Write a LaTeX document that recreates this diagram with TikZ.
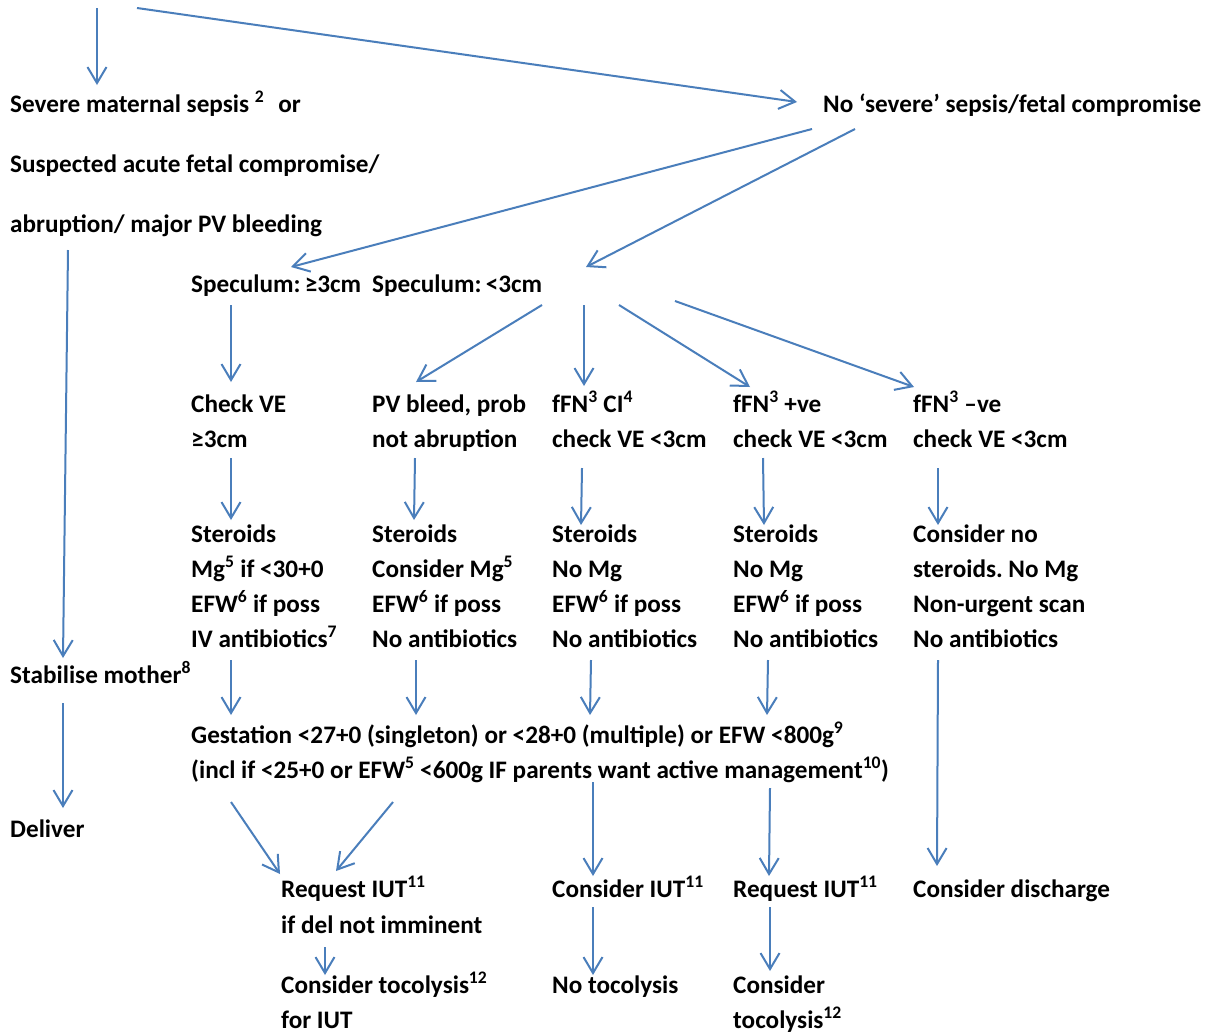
\documentclass[tikz,border=0pt]{standalone}
\usepackage{fontspec}
\setmainfont{Carlito}
\usetikzlibrary{arrows.meta}
\definecolor{arrowblue}{RGB}{74,126,187}
\frenchspacing
\begin{document}
\begin{tikzpicture}[x=1pt,y=-1pt,
  txt/.style={anchor=base west,inner sep=0pt,font=\fontsize{25.2}{35}\selectfont\bfseries},
  arr/.style={draw=arrowblue,line width=2pt,-{Straight Barb[length=16pt,width=19pt]}}]
\fill[white] (0,0) rectangle (1209,1034);
\useasboundingbox (0,0) rectangle (1209,1034);
% top free ends
\coordinate (top1) at (97,8);
\coordinate (top2) at (137,8);
% left column
\node[txt] (s1) at (10,112) {Severe maternal sepsis \textsuperscript{2}\hspace{14pt}or};
\node[txt] (s2) at (10,172) {Suspected acute fetal compromise/};
\node[txt] (s3) at (10,232) {abruption/ major PV bleeding};
\node[txt] (ns) at (823,112) {No ‘severe’ sepsis/fetal compromise};
\node[txt] (spA) at (191,292) {Speculum:\,≥3cm};
\node[txt] (spB) at (372,292) {Speculum:\,<3cm};
% row: checks
\node[txt] (c1a) at (191,412) {Check VE};
\node[txt] (c1b) at (191,447) {≥3cm};
\node[txt] (c2a) at (372,412) {PV bleed, prob};
\node[txt] (c2b) at (372,447) {not abruption};
\node[txt] (c3a) at (552,412) {fFN\textsuperscript{3} CI\textsuperscript{4}};
\node[txt] (c3b) at (552,447) {check VE <3cm};
\node[txt] (c4a) at (733,412) {fFN\textsuperscript{3} +ve};
\node[txt] (c4b) at (733,447) {check VE <3cm};
\node[txt] (c5a) at (913,412) {fFN\textsuperscript{3} –ve};
\node[txt] (c5b) at (913,447) {check VE <3cm};
% row: management
\node[txt] (d11) at (191,542) {Steroids};
\node[txt] (d12) at (191,577) {Mg\textsuperscript{5} if <30+0};
\node[txt] (d13) at (191,612) {EFW\textsuperscript{6} if poss};
\node[txt] (d14) at (191,647) {IV antibiotics\textsuperscript{7}};
\node[txt] (d21) at (372,542) {Steroids};
\node[txt] (d22) at (372,577) {Consider Mg\textsuperscript{5}};
\node[txt] (d23) at (372,612) {EFW\textsuperscript{6} if poss};
\node[txt] (d24) at (372,647) {No antibiotics};
\node[txt] (d31) at (552,542) {Steroids};
\node[txt] (d32) at (552,577) {No Mg};
\node[txt] (d33) at (552,612) {EFW\textsuperscript{6} if poss};
\node[txt] (d34) at (552,647) {No antibiotics};
\node[txt] (d41) at (733,542) {Steroids};
\node[txt] (d42) at (733,577) {No Mg};
\node[txt] (d43) at (733,612) {EFW\textsuperscript{6} if poss};
\node[txt] (d44) at (733,647) {No antibiotics};
\node[txt] (d51) at (913,542) {Consider no};
\node[txt] (d52) at (913,577) {steroids. No Mg};
\node[txt] (d53) at (913,612) {Non-urgent scan};
\node[txt] (d54) at (913,647) {No antibiotics};
\node[txt] (stab) at (10,683) {Stabilise mother\textsuperscript{8}};
\node[txt] (g1) at (191,743) {Gestation <27+0 (singleton) or <28+0 (multiple) or EFW <800g\textsuperscript{9}};
\node[txt] (g2) at (191,778) {(incl if <25+0 or EFW\textsuperscript{5} <600g IF parents want active management\textsuperscript{10})};
\node[txt] (del) at (10,837) {Deliver};
\node[txt] (r1a) at (281,897) {Request IUT\textsuperscript{11}};
\node[txt] (r1b) at (281,933) {if del not imminent};
\node[txt] (t1a) at (281,993) {Consider tocolysis\textsuperscript{12}};
\node[txt] (t1b) at (281,1028) {for IUT};
\node[txt] (r3) at (552,897) {Consider IUT\textsuperscript{11}};
\node[txt] (t3) at (552,993) {No tocolysis};
\node[txt] (r4) at (733,897) {Request IUT\textsuperscript{11}};
\node[txt] (t4a) at (733,993) {Consider};
\node[txt] (t4b) at (733,1028) {tocolysis\textsuperscript{12}};
\node[txt] (r5) at (913,897) {Consider discharge};
% connectors
\draw[arr] (top1) -- ([shift={(87,-27)}]s1.base west);
\draw[arr] (top2) -- ([shift={(-26,-10)}]ns.base west);
\draw[arr] ([shift={(-11,17)}]ns.base west) -- ([shift={(100,-25)}]spA.base west);
\draw[arr] ([shift={(32,17)}]ns.base west) -- ([shift={(214,-25)}]spB.base west);
\draw[arr] ([shift={(58,18)}]s3.base west) -- ([shift={(53,-25)}]stab.base west);
\draw[arr] ([shift={(53,20)}]stab.base west) -- ([shift={(53,-29)}]del.base west);
\draw[arr] ([shift={(40,13)}]spA.base west) -- ([shift={(40,-30)}]c1a.base west);
\draw[arr] ([shift={(170,13)}]spB.base west) -- ([shift={(44,-30)}]c2a.base west);
\draw[arr] ([shift={(212,13)}]spB.base west) -- ([shift={(32,-26)}]c3a.base west);
\draw[arr] ([shift={(247,13)}]spB.base west) -- ([shift={(17,-25)}]c4a.base west);
\draw[arr] ([shift={(303,9)}]spB.base west) -- ([shift={(1,-25)}]c5a.base west);
\draw[arr] ([shift={(40,11)}]c1b.base west) -- ([shift={(40,-22)}]d11.base west);
\draw[arr] ([shift={(43,11)}]c2b.base west) -- ([shift={(42,-22)}]d21.base west);
\draw[arr] ([shift={(30,21)}]c3b.base west) -- ([shift={(29,-17)}]d31.base west);
\draw[arr] ([shift={(30,11)}]c4b.base west) -- ([shift={(31,-17)}]d41.base west);
\draw[arr] ([shift={(25,21)}]c5b.base west) -- ([shift={(25,-17)}]d51.base west);
\draw[arr] ([shift={(40,13)}]d14.base west) -- ([shift={(40,-28)}]g1.base west);
\draw[arr] ([shift={(44,13)}]d24.base west) -- ([shift={(225,-28)}]g1.base west);
\draw[arr] ([shift={(39,13)}]d34.base west) -- ([shift={(399,-28)}]g1.base west);
\draw[arr] ([shift={(35,13)}]d44.base west) -- ([shift={(576,-28)}]g1.base west);
\draw[arr] ([shift={(25,13)}]d54.base west) -- ([shift={(24,-31)}]r5.base west);
\draw[arr] ([shift={(40,24)}]g2.base west) -- ([shift={(-1,-23)}]r1a.base west);
\draw[arr] ([shift={(202,24)}]g2.base west) -- ([shift={(55,-26)}]r1a.base west);
\draw[arr] ([shift={(402,4)}]g2.base west) -- ([shift={(41,-21)}]r3.base west);
\draw[arr] ([shift={(579,10)}]g2.base west) -- ([shift={(36,-21)}]r4.base west);
\draw[arr] ([shift={(44,14)}]r1b.base west) -- ([shift={(44,-18)}]t1a.base west);
\draw[arr] ([shift={(41,10)}]r3.base west) -- ([shift={(41,-18)}]t3.base west);
\draw[arr] ([shift={(37,10)}]r4.base west) -- ([shift={(37,-22)}]t4a.base west);
\end{tikzpicture}
\end{document}
